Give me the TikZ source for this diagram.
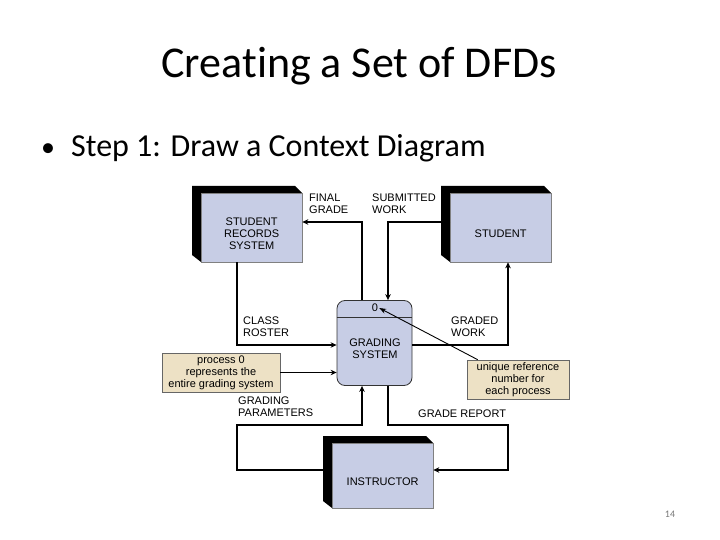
\documentclass[tikz,border=0pt]{standalone}
\usepackage{fontspec}
\setmainfont[Ligatures=NoCommon]{Carlito}
\newfontfamily\diagramFont{Liberation Sans}
\usetikzlibrary{positioning,arrows.meta}
\tikzstyle{slide} = [x = 1pt, y = -1pt]
\definecolor{entityColor}{RGB}{199,205,229}
\definecolor{noteColor}{RGB}{237,225,197}
\definecolor{pageColor}{RGB}{120,120,120}
\newcommand{\diagramText}{\diagramFont\fontsize{11}{11.8}\selectfont}
\tikzstyle{entityStyle} = [fill=entityColor, draw=black!50, line width=.3pt, inner sep=0, anchor=north west]
\tikzstyle{shadowStyle} = [fill=black]
\tikzstyle{processStyle} = [fill=entityColor, draw=black!80, line width=.8pt, rounded corners=8pt, minimum width=75, minimum height=85, inner sep=0]
\tikzstyle{noteStyle} = [fill=noteColor, draw=black!60, line width=.6pt, align=center, inner sep=0, font=\diagramText]
\tikzstyle{flowLine} = [line width=1.6pt, -{Stealth[length=6pt, width=5.5pt]}]
\tikzstyle{pointerLine} = [line width=.9pt, -{Stealth[length=7pt, width=5pt]}]
\tikzstyle{flowText} = [font=\diagramText, align=left, anchor=north west, inner sep=0]
\tikzstyle{entityText} = [font=\diagramText, align=center]
\newcommand{\externalEntity}[6]{
  \fill [shadowStyle] (#2 - 9, #3 - 7) -- (#2 + #4 - 7, #3 - 7) -- (#2 + #4, #3) -- (#2, #3 + #5) -- (#2 - 9, #3 + #5 - 7) -- cycle;
  \node [entityStyle, minimum width = #4, minimum height = #5] (#1) at (#2, #3) {};
  \node [entityText] (#1Text) at ([yshift=-6pt]#1.center) {#6};
}

\begin{document}
\begin{tikzpicture}[slide]
  \useasboundingbox (0,0) rectangle (720,540);
  \node [anchor=base, font=\fontsize{44}{48}\selectfont, inner sep=0] (title) at (359, 78) {Creating a Set of DFDs};
  \node [anchor=base west, font=\fontsize{28}{32}\selectfont, inner sep=0] (bullet) at (41, 157) {•};
  \node [anchor=base west, font=\fontsize{32}{36}\selectfont, inner sep=0] (stepText) at (71, 157) {Step 1: Draw a Context Diagram};
  \node [anchor=base, font=\fontsize{10}{12}\selectfont, text=pageColor] (pageNumber) at (670, 517) {14};

  \externalEntity{srs}{201}{193}{101}{69}{STUDENT\\RECORDS\\SYSTEM}
  \externalEntity{student}{450}{193}{101}{69}{STUDENT}
  \externalEntity{instructor}{332}{443}{101}{65}{INSTRUCTOR}

  \node [processStyle] (grading) at (374.5, 343) {};
  \coordinate (divider) at (0, 317);
  \draw [line width=.8pt, draw=black!80] (grading.west |- divider) -- (grading.east |- divider);
  \node [font=\diagramText, inner sep=1pt] (zeroLabel) at (375, 308) {0};
  \node [entityText] (gradingText) at (375, 349) {GRADING\\SYSTEM};

  \node [noteStyle, minimum width=118, minimum height=39] (noteLeft) at (221, 372.5) {process 0\\represents the\\entire grading system};
  \node [noteStyle, minimum width=102, minimum height=39] (noteRight) at (518, 379.5) {unique reference\\number for\\each process};

  % bends of the flows
  \coordinate (finalBend) at (362, 222);
  \coordinate (submittedBend) at (388, 222);
  \coordinate (rosterBend) at (237, 345);
  \coordinate (gradedBend) at (508, 345);
  \coordinate (paramsBend) at (237, 425);
  \coordinate (reportBend) at (508, 425);
  \coordinate (paramsLow) at (237, 470);

  \draw [flowLine] (grading.north -| finalBend) -- (finalBend) -- (srs.east |- finalBend);
  \draw [flowLine] (student.west |- submittedBend) -- (submittedBend) -- (grading.north -| submittedBend);
  \draw [flowLine] (srs.south -| rosterBend) -- (rosterBend) -- (grading.west |- rosterBend);
  \draw [flowLine] (grading.east |- gradedBend) -- (gradedBend) -- (student.south -| gradedBend);
  \draw [flowLine] (noteLeft.east) -- (grading.west |- noteLeft.east);
  \draw [flowLine] (instructor.west |- paramsLow) -- (paramsLow) -- (paramsBend) -- (paramsBend -| finalBend) -- (grading.south -| finalBend);
  \draw [flowLine] (grading.south -| submittedBend) -- (submittedBend |- reportBend) -- (reportBend) -- (reportBend |- paramsLow) -- (instructor.east |- paramsLow);
  \draw [pointerLine] ([xshift=11pt]noteRight.north west) -- (zeroLabel.east);

  \node [flowText] (finalText) at (309, 194) {FINAL\\GRADE};
  \node [flowText] (submittedText) at (372, 194) {SUBMITTED\\WORK};
  \node [flowText] (rosterText) at (243, 317) {CLASS\\ROSTER};
  \node [flowText] (gradedText) at (451, 317) {GRADED\\WORK};
  \node [flowText] (paramsText) at (238, 397) {GRADING\\PARAMETERS};
  \node [flowText] (reportText) at (418, 410) {GRADE REPORT};
\end{tikzpicture}
\end{document}
